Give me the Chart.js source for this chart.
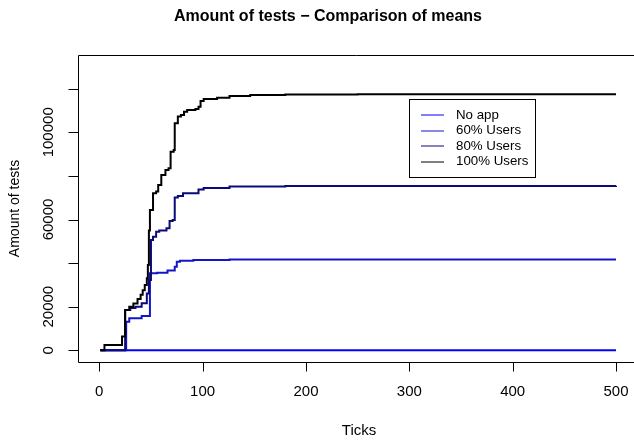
<!DOCTYPE html>
<html><head><meta charset="utf-8">
<script src="https://cdn.jsdelivr.net/npm/chart.js@4/dist/chart.umd.min.js"></script>
<style>html,body{margin:0;padding:0;background:#fff;}canvas{display:block;}</style>
</head><body>
<canvas id="c" width="634" height="441"></canvas>
<script>
const chartTitle = "Amount of tests \u2212 Comparison of means";
const xTitle = "Ticks";
const yTitle = "Amount of tests";
const seriesNames = ["No app", "60% Users", "80% Users", "100% Users"];
const seriesColors = ["#0000FF", "#1414C8", "#0A0A78", "#000000"];

const noAppTicks = [1, 500];
const noAppValues = [0, 0];

const users60Ticks = [1, 26, 29, 41, 49, 56, 66, 73, 75, 78, 91, 126, 500];
const users60Values = [0, 13100, 14700, 15700, 35300, 35600, 36600, 38300, 40600, 41100, 41400, 41700, 41700];

const users80Ticks = [1, 25, 30, 35, 41, 46, 48, 50, 52, 55, 58, 65, 68, 71, 73, 76, 81, 96, 101, 126, 180, 500];
const users80Values = [0, 18500, 19400, 20000, 21600, 26100, 32200, 50600, 52100, 54400, 55000, 56000, 59300, 59800, 70100, 70800, 72000, 73800, 74500, 75100, 75400, 75500];

const users100Ticks = [1, 5, 22, 25, 29, 33, 37, 40, 42, 44, 46, 47, 48, 49, 52, 55, 57, 60, 64, 67, 69, 72, 73, 76, 79, 82, 85, 93, 96, 98, 101, 114, 126, 146, 180, 250, 500];
const users100Values = [0, 2400, 6300, 18500, 20000, 21500, 23500, 25500, 27500, 30000, 33000, 39100, 55000, 64400, 72000, 72800, 75800, 80400, 82700, 83500, 91100, 91900, 104100, 107200, 107900, 109400, 110200, 110700, 111700, 114400, 115300, 115900, 116600, 117100, 117300, 117400, 117400];

const xTicks = [0, 100, 200, 300, 400, 500];
const yTicks = [0, 20000, 40000, 60000, 80000, 100000, 120000];
const yTickLabels = ["0", "20000", "", "60000", "", "100000", ""];

function pts(xs, ys) { return xs.map((x, i) => ({x: x, y: ys[i]})); }

const seriesData = [
  pts(noAppTicks, noAppValues),
  pts(users60Ticks, users60Values),
  pts(users80Ticks, users80Values),
  pts(users100Ticks, users100Values)
];

const FONT = '"Liberation Sans", Arial, Helvetica, sans-serif';

const rAxes = {
  id: 'rAxes',
  afterDraw(chart) {
    const ctx = chart.ctx, xs = chart.scales.x, ys = chart.scales.y, ca = chart.chartArea;
    ctx.save();
    ctx.strokeStyle = '#000';
    ctx.lineWidth = 1;
    // box
    ctx.beginPath();
    ctx.moveTo(ca.right + 1, Math.round(ca.top) + 0.5);
    ctx.lineTo(Math.round(ca.left) + 0.5, Math.round(ca.top) + 0.5);
    ctx.lineTo(Math.round(ca.left) + 0.5, Math.round(ca.bottom) + 0.5);
    ctx.lineTo(ca.right + 1, Math.round(ca.bottom) + 0.5);
    ctx.stroke();
    ctx.fillStyle = '#000';
    ctx.font = '15px ' + FONT;
    // x axis
    ctx.textAlign = 'center';
    ctx.textBaseline = 'middle';
    const yb = Math.round(ca.bottom) + 0.5;
    ctx.beginPath();
    ctx.moveTo(Math.round(xs.getPixelForValue(xTicks[0])) + 0.5, yb);
    ctx.lineTo(Math.round(xs.getPixelForValue(xTicks[xTicks.length - 1])) + 0.5, yb);
    xTicks.forEach(v => {
      const px = Math.round(xs.getPixelForValue(v)) + 0.5;
      ctx.moveTo(px, yb); ctx.lineTo(px, yb + 9);
    });
    ctx.stroke();
    xTicks.forEach(v => {
      ctx.fillText(String(v), xs.getPixelForValue(v), ca.bottom + 30);
    });
    // y axis
    const xl = Math.round(ca.left) + 0.5;
    ctx.beginPath();
    ctx.moveTo(xl, Math.round(ys.getPixelForValue(yTicks[0])) + 0.5);
    ctx.lineTo(xl, Math.round(ys.getPixelForValue(yTicks[yTicks.length - 1])) + 0.5);
    yTicks.forEach(v => {
      const py = Math.round(ys.getPixelForValue(v)) + 0.5;
      ctx.moveTo(xl, py); ctx.lineTo(xl - 10, py);
    });
    ctx.stroke();
    yTicks.forEach((v, i) => {
      if (!yTickLabels[i]) return;
      ctx.save();
      ctx.translate(ca.left - 29, ys.getPixelForValue(v));
      ctx.rotate(-Math.PI / 2);
      ctx.fillText(yTickLabels[i], 0, 0);
      ctx.restore();
    });
    // axis titles
    ctx.fillText(xTitle, 359, 431);
    ctx.font = '14px ' + FONT;
    ctx.save();
    ctx.translate(15, (ca.top + ca.bottom) / 2);
    ctx.rotate(-Math.PI / 2);
    ctx.fillText(yTitle, 0, 0);
    ctx.restore();
    // main title
    ctx.font = 'bold 16px ' + FONT;
    ctx.fillText(chartTitle, 328, 17);
    // legend
    const lx = 409, ly = 99, lw = 126, lh = 78;
    ctx.fillStyle = '#fff';
    ctx.fillRect(lx, ly, lw, lh);
    ctx.strokeStyle = '#000';
    ctx.strokeRect(lx + 0.5, ly + 0.5, lw, lh);
    ctx.font = '13.3px ' + FONT;
    ctx.textAlign = 'left';
    chart.data.datasets.forEach((ds, i) => {
      const ry = ly + 16 + i * 15.6;
      ctx.strokeStyle = ds.borderColor;
      ctx.lineWidth = 1;
      ctx.beginPath();
      ctx.moveTo(lx + 12, Math.round(ry));
      ctx.lineTo(lx + 35, Math.round(ry));
      ctx.stroke();
      ctx.fillStyle = '#000';
      ctx.fillText(ds.label, lx + 47, ry);
    });
    ctx.restore();
  }
};

new Chart(document.getElementById('c'), {
  type: 'line',
  data: {
    datasets: seriesNames.map((name, i) => ({
      label: name,
      data: seriesData[i],
      borderColor: seriesColors[i],
      backgroundColor: seriesColors[i],
      borderWidth: 2,
      pointRadius: 0,
      stepped: true,
      fill: false,
      order: seriesNames.length - 1 - i
    }))
  },
  options: {
    responsive: false,
    animation: false,
    layout: { padding: { left: 78, right: 0, top: 55, bottom: 79 } },
    plugins: { legend: { display: false }, title: { display: false }, tooltip: { enabled: false } },
    scales: {
      x: { type: 'linear', display: false, min: -20.6, max: 517.4 },
      y: { type: 'linear', display: false, min: -5367, max: 135459 }
    }
  },
  plugins: [rAxes]
});
</script>
</body></html>
